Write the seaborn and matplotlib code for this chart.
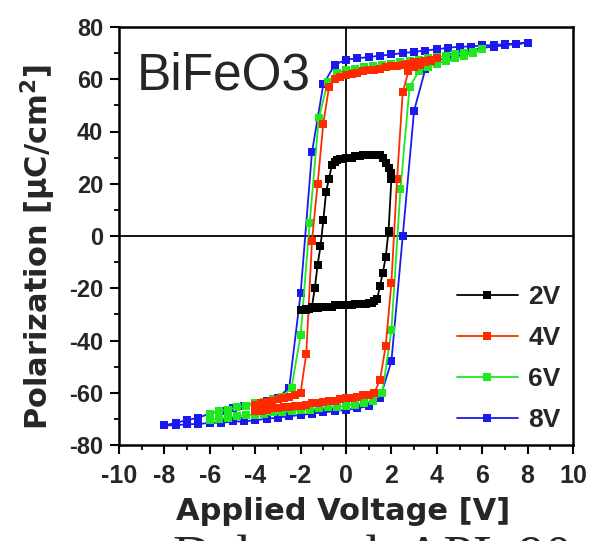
import matplotlib
matplotlib.use("Agg")
import matplotlib.pyplot as plt
from matplotlib.ticker import MultipleLocator
import pandas as pd
import seaborn as sns

# ---------------- data ----------------
# 8 V loop (blue)
V8 = [-8.0, -7.5, -7.0, -6.5, -6.0, -5.5, -5.0, -4.5, -4.0, -3.5, -3.0, -2.5, -2.0,
      -1.5, -1.0, -0.5, 0.0, 0.5, 1.0, 1.5, 2.0, 2.5, 3.0, 3.5, 4.0, 4.5, 5.0, 5.5,
      6.0, 6.5, 7.0, 7.5, 8.0]
P8_down = [-72.5, -71.5, -70.5, -69.5, -68, -67, -66, -65, -64, -63, -62, -58, -22,
           32, 58, 65.5, 67.5, 68, 68.5, 69, 69.5, 70, 70.5, 71, 71.5, 72, 72.5, 72.5,
           73, 73, 73.5, 73.5, 74]
P8_up = [-72.5, -72.5, -72, -72, -71.5, -71.5, -71, -71, -70.5, -70, -69.5, -69, -68.5,
         -68, -67.5, -67, -66.5, -66, -65, -62, -48, 0, 48, 64, 67, 68.5, 70, 71,
         72, 72.5, 73, 73.5, 74]

# 6 V loop (green)
V6 = [-6.0, -5.6, -5.2, -4.8, -4.4, -4.0, -3.6, -3.2, -2.8, -2.4, -2.0, -1.6, -1.2,
      -0.8, -0.4, 0.0, 0.4, 0.8, 1.2, 1.6, 2.0, 2.4, 2.8, 3.2, 3.6, 4.0, 4.4, 4.8,
      5.2, 5.6, 6.0]
P6_down = [-68, -67, -66.5, -65.5, -65, -64, -63.5, -62.5, -61.5, -58, -38, 5, 45,
           59, 62.5, 63.5, 64, 64.5, 65, 65.5, 66, 66.5, 67, 67.5, 68, 68.5, 69, 69.5,
           70, 70.5, 71.5]
P6_up = [-70.5, -70, -69.5, -69, -68.5, -68.5, -68, -67.5, -67.5, -67, -66.5, -66.5,
         -66, -65.5, -65.5, -65, -64.5, -64, -63, -60, -36, 18, 57, 63, 64.5, 66, 67,
         68, 69, 70, 71.5]

# 4 V loop (red)
V4 = [-4.0, -3.75, -3.5, -3.25, -3.0, -2.75, -2.5, -2.25, -2.0, -1.75, -1.5, -1.25,
      -1.0, -0.75, -0.5, -0.25, 0.0, 0.25, 0.5, 0.75, 1.0, 1.25, 1.5, 1.75, 2.0,
      2.25, 2.5, 2.75, 3.0, 3.25, 3.5, 3.75, 4.0]
P4_down = [-64.5, -64, -63.5, -63, -62.5, -62, -61.5, -61, -60, -45, -2, 20, 43, 57,
           60, 61, 61.5, 62, 62.5, 63, 63.5, 63.5, 64, 64.5, 65, 65, 65.5, 66, 66.5,
           66.5, 67, 67.5, 68]
P4_up = [-67, -67, -66.5, -66, -66, -65.5, -65.5, -65, -65, -64.5, -64, -64, -63.5,
         -63, -63, -62.5, -62, -62, -61.5, -61, -61, -60, -55, -42, -18, 22, 55, 63,
         64.5, 65.5, 66.5, 67, 68]

# 2 V loop (black)
V2 = [-2.0, -1.875, -1.75, -1.625, -1.5, -1.375, -1.25, -1.125, -1.0, -0.875, -0.75,
      -0.625, -0.5, -0.375, -0.25, -0.125, 0.0, 0.125, 0.25, 0.375, 0.5, 0.625, 0.75,
      0.875, 1.0, 1.125, 1.25, 1.375, 1.5, 1.625, 1.75, 1.875, 2.0]
P2_down = [-28.5, -28.5, -28.5, -28, -27, -20, -11, -4, 6, 17, 22, 27, 28.5, 29, 29.5,
           29.5, 30, 30, 30, 30.5, 30.5, 30.5, 31, 31, 31, 31, 31, 31, 31, 30, 28, 26, 24]
P2_up = [-28.5, -28.5, -28, -28, -27.5, -27.5, -27.5, -27, -27, -27, -27, -27, -26.5,
         -26.5, -26.5, -26.5, -26.5, -26.5, -26.5, -26, -26, -26, -26, -26, -25.5,
         -25.5, -25, -24, -19, -14, -8, 2, 22]

labels = ["2V", "4V", "6V", "8V"]
colors = {"2V": "#000000", "4V": "#ff2a00", "6V": "#1ee81e", "8V": "#1a1af0"}

X_TICKS = [-10, -8, -6, -4, -2, 0, 2, 4, 6, 8, 10]
Y_TICKS = [-80, -60, -40, -20, 0, 20, 40, 60, 80]


def loop_frame(v, p_down, p_up, label):
    vv = list(reversed(v)) + list(v)
    pp = list(reversed(p_down)) + list(p_up)
    return pd.DataFrame({"V": vv, "P": pp, "loop": label})


frames = {
    "2V": loop_frame(V2, P2_down, P2_up, "2V"),
    "4V": loop_frame(V4, P4_down, P4_up, "4V"),
    "6V": loop_frame(V6, P6_down, P6_up, "6V"),
    "8V": loop_frame(V8, P8_down, P8_up, "8V"),
}

# ---------------- figure ----------------
sns.set_style("white")
plt.rcParams["font.family"] = ["DejaVu Sans"]

fig = plt.figure(figsize=(5.95, 5.41), dpi=100)
L, R, T, B = 119, 573, 27, 445
W, H = 595, 541
ax = fig.add_axes([L / W, 1 - B / H, (R - L) / W, (B - T) / H])

for lab in ["8V", "6V", "4V", "2V"]:
    sns.lineplot(data=frames[lab], x="V", y="P", sort=False, estimator=None,
                 color=colors[lab], marker="s", markersize=6.3,
                 markeredgewidth=0, linewidth=1.3, label=lab, ax=ax)

ax.axhline(0, color="black", lw=1.3, zorder=0.5)
ax.axvline(0, color="black", lw=1.3, zorder=0.5)

ax.set_xlim(-10, 10)
ax.set_ylim(-80, 80)
ax.set_xticks(X_TICKS)
ax.set_yticks(Y_TICKS)
ax.xaxis.set_minor_locator(MultipleLocator(1))
ax.yaxis.set_minor_locator(MultipleLocator(10))
ax.set_xticklabels([str(t) for t in X_TICKS])
ax.set_yticklabels([str(t) for t in Y_TICKS])

for s in ax.spines.values():
    s.set_linewidth(1.8)
    s.set_color("black")
    s.set_visible(True)

ax.tick_params(which="major", direction="out", length=6.5, width=1.5,
               color="black", bottom=True, left=True)
ax.tick_params(which="minor", direction="out", length=3.5, width=1.3,
               color="black", bottom=True, left=True)
ax.tick_params(axis="x", which="major", pad=7)
ax.tick_params(axis="y", which="major", pad=5)

tick_family = ["Liberation Sans", "DejaVu Sans"]
for t in ax.get_xticklabels():
    t.set_family(tick_family); t.set_fontweight("bold"); t.set_fontsize(18)
for t in ax.get_yticklabels():
    t.set_family(tick_family); t.set_fontweight("bold"); t.set_fontsize(17)

ax.set_xlabel("")
ax.set_ylabel("")
fig.text(343.5 / W, 1 - 520 / H, "Applied Voltage [V]", ha="center",
         va="baseline", fontsize=22, fontweight="bold", family="DejaVu Sans")
fig.text(38 / W, 1 - 247 / H, r"Polarization [μC/cm$^{\mathbf{2}}$]", ha="center",
         va="center", rotation=90, fontsize=22, fontweight="bold",
         family="DejaVu Sans")

fig.text(137 / W, 1 - 90 / H, "BiFeO3", ha="left", va="baseline",
         fontsize=37, family=["Liberation Sans", "DejaVu Sans"])

# bottom citation line (cut off by the figure edge in the reference)
fig.text(173 / W, -32 / H, "Dale et al. APL 90, 9", ha="left", va="baseline",
         fontsize=39, family=["Liberation Serif", "DejaVu Serif"])

handles, labs = ax.get_legend_handles_labels()
order = [labs.index(l) for l in labels]
leg = ax.legend([handles[i] for i in order], [labs[i] for i in order],
                loc="center left", bbox_to_anchor=((457 - L) / (R - L), (B - 358.5) / (B - T)),
                frameon=False, borderpad=0, borderaxespad=0, handlelength=2.3,
                handletextpad=0.4, labelspacing=0.65, numpoints=1,
                prop={"family": tick_family, "weight": "bold", "size": 19})

fig.savefig("out.png", dpi=100)
